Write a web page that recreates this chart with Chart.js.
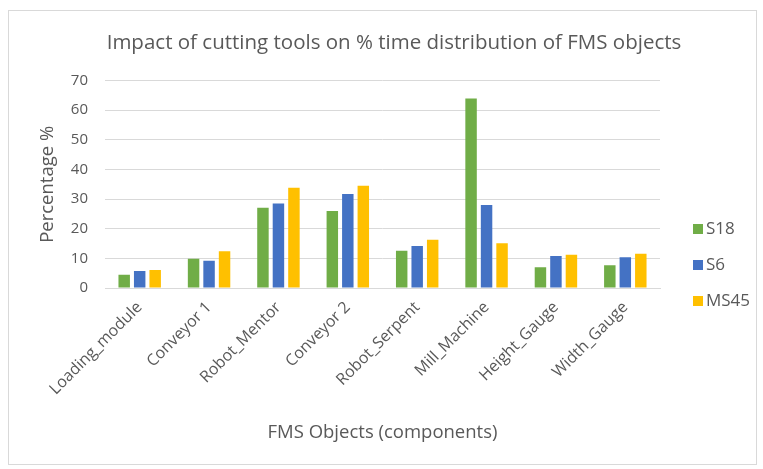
<!DOCTYPE html>
<html>
<head>
<meta charset="utf-8">
<script src="https://cdn.jsdelivr.net/npm/chart.js@4.4.1/dist/chart.umd.min.js"></script>
<style>
  html, body { margin: 0; padding: 0; background: #fff; }
  canvas { display: block; }
</style>
</head>
<body>
<canvas id="fmsChart" width="763" height="469"></canvas>
<script>
const objects = ["Loading_module", "Conveyor 1", "Robot_Mentor", "Conveyor 2", "Robot_Serpent", "Mill_Machine", "Height_Gauge", "Width_Gauge"];
const s18 = [4.5, 9.9, 27.1, 26.0, 12.6, 64.0, 7.0, 7.7];
const s6 = [5.7, 9.2, 28.5, 31.7, 14.2, 28.0, 10.8, 10.4];
const ms45 = [6.1, 12.4, 33.8, 34.5, 16.3, 15.1, 11.2, 11.6];
const yTicks = [0, 10, 20, 30, 40, 50, 60, 70];

const FONT = "'Open Sans', sans-serif";
const GREY = "#595959";

// frame around the whole chart
const framePlugin = {
  id: "frame",
  beforeDraw(chart) {
    const c = chart.ctx;
    c.save();
    c.fillStyle = "#fff";
    c.fillRect(0, 0, chart.width, chart.height);
    c.strokeStyle = "#d9d9d9";
    c.lineWidth = 1;
    c.strokeRect(8.5, 10.5, 748, 454);
    c.restore();
  }
};

// legend on the right, stacked with square swatches
const sideLegend = {
  id: "sideLegend",
  afterDraw(chart) {
    const c = chart.ctx;
    c.save();
    c.font = "17px " + FONT;
    c.textBaseline = "middle";
    chart.data.datasets.forEach((ds, i) => {
      const y = 229 + i * 36;
      c.fillStyle = ds.backgroundColor;
      c.fillRect(693, y - 5, 10, 10);
      c.fillStyle = GREY;
      c.fillText(ds.label, 706, y);
    });
    c.restore();
  }
};

const ctx = document.getElementById("fmsChart");

new Chart(ctx, {
  type: "bar",
  data: {
    labels: objects,
    datasets: [
      { label: "S18", data: s18, backgroundColor: "#70AD47" },
      { label: "S6", data: s6, backgroundColor: "#4472C4" },
      { label: "MS45", data: ms45, backgroundColor: "#FFC000" }
    ]
  },
  options: {
    responsive: false,
    animation: false,
    layout: { padding: { left: 25, right: 0, top: 0, bottom: 0 } },
    datasets: { bar: { barPercentage: 0.74, categoryPercentage: 0.67 } },
    plugins: {
      legend: { display: false },
      tooltip: { enabled: false },
      title: {
        display: true,
        text: "Impact of cutting tools on % time distribution of FMS objects",
        color: GREY,
        font: { family: FONT, size: 20.5, weight: "normal" },
        padding: { top: 31, bottom: 25 }
      }
    },
    scales: {
      x: {
        afterFit(scale) { scale.height = 181; },
        grid: { display: false },
        border: { display: true, color: "#d9d9d9" },
        ticks: {
          color: GREY,
          font: { family: FONT, size: 16 },
          minRotation: 45,
          maxRotation: 45,
          padding: 2
        },
        title: {
          display: true,
          text: "FMS Objects (components)",
          color: GREY,
          font: { family: FONT, size: 18.5 },
          padding: { top: 0, bottom: 25 }
        }
      },
      y: {
        min: 0,
        max: 70,
        afterFit(scale) { scale.width = 80; },
        afterBuildTicks(scale) { scale.ticks = yTicks.map(v => ({ value: v })); },
        grid: { color: "#d9d9d9", drawTicks: false },
        border: { display: false },
        ticks: {
          color: GREY,
          font: { family: FONT, size: 15 },
          padding: 17
        },
        title: {
          display: true,
          text: "Percentage %",
          color: GREY,
          font: { family: FONT, size: 18.5 },
          padding: { top: 12, bottom: 0 }
        }
      },
      // empty right-hand axis that keeps room for the legend
      side: {
        type: "linear",
        position: "right",
        afterFit(scale) { scale.width = 103; },
        grid: { display: false },
        border: { display: false },
        ticks: { display: false }
      }
    }
  },
  plugins: [framePlugin, sideLegend]
});
</script>
</body>
</html>
